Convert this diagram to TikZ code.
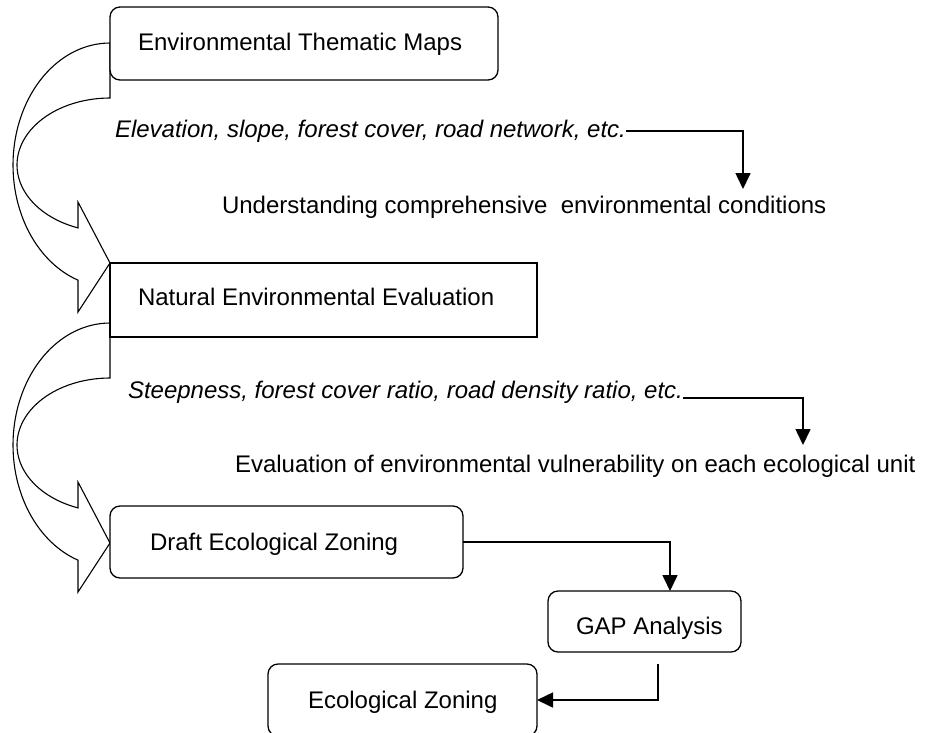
\documentclass[tikz,border=0pt]{standalone}
\usepackage{fontspec}
\setmainfont{Liberation Sans}
\usetikzlibrary{arrows.meta}
\begin{document}
\begin{tikzpicture}[x=1pt,y=-1pt,
  box/.style={draw, line width=1.3pt, fill=white, rounded corners=10pt, inner sep=0pt, outer sep=0pt, anchor=north west},
  sqbox/.style={box, sharp corners},
  lbl/.style={font=\fontsize{24}{28}\selectfont, anchor=base west, inner sep=0pt, outer sep=0pt},
  ilbl/.style={lbl, font=\fontsize{24}{28}\selectfont\itshape},
  conn/.style={line width=1.6pt, -{Triangle[length=16pt,width=15pt]}},
  blockarrow/.style={draw, line width=1.1pt, fill=white, line join=miter}]
\useasboundingbox (0,0) rectangle (925,732);
\clip (0,0) rectangle (925,732);
% curved block arrows
\foreach \s in {0,280}{
  \begin{scope}[shift={(0,\s)}]
  \path[blockarrow] (110,43)
    -- plot[domain=-90:-250.74, samples=60] ({110+97*cos(\x)},{165+122*sin(\x)})
    -- (78,312) -- (110,263) -- (78,202)
    -- plot[domain=-249.9:-90, samples=60] ({110+93*cos(\x)},{165+67*sin(\x)})
    -- cycle;
  \end{scope}
}
% boxes
\node[box, minimum width=388pt, minimum height=73pt] (env) at (110,7) {};
\node[sqbox, minimum width=427pt, minimum height=74pt] (nat) at (110,263) {};
\node[box, minimum width=353pt, minimum height=72pt] (draft) at (110,506) {};
\node[box, minimum width=193pt, minimum height=61pt] (gap) at (548,591) {};
\node[box, minimum width=269pt, minimum height=72pt] (eco) at (268,664) {};
% texts
\node[lbl] (t0) at (138,50) {Environmental Thematic Maps};
\node[ilbl] (t1) at (115,137) {Elevation, slope, forest cover, road network, etc.};
\node[lbl] (u1) at (222,213) {Understanding comprehensive\ \ environmental conditions};
\node[lbl] (tn) at (138,305) {Natural Environmental Evaluation};
\node[ilbl] (t2) at (128,398) {Steepness, forest cover ratio, road density ratio, etc.};
\node[lbl] (u2) at (235,472) {Evaluation of environmental vulnerability on each ecological unit};
\node[lbl] (td) at (150,550) {Draft Ecological Zoning};
\node[lbl] (tg) at (576,634) {GAP Analysis};
\node[lbl] (te) at (308,708) {Ecological Zoning};
% connectors
\coordinate (c1) at (743,189);
\coordinate (c2) at (803,445);
\coordinate (c3) at (670,591);
\coordinate (c4) at (658,664);
\draw[conn] (t1.east) -| (c1);
\draw[conn] (t2.base east) -| (c2);
\draw[conn] (draft.east) -| (c3);
\draw[conn] (c4) |- (eco.east);
\end{tikzpicture}
\end{document}
